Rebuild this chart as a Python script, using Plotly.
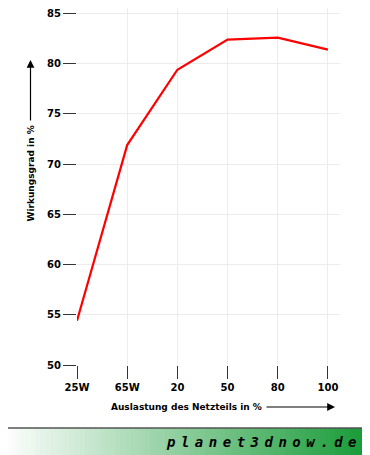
import plotly.graph_objects as go

categories = ["25W", "65W", "20", "50", "80", "100"]
efficiency = [54.4, 71.9, 79.4, 82.4, 82.6, 81.4]
y_ticks = [50, 55, 60, 65, 70, 75, 80, 85]

# page offset caused by default body margin of the html page
OFF = 8
W, H = 370 - OFF, 455 - OFF
L, R, T, B = 77 - OFF, 30, 0, 90
PW, PH = W - L - R, H - T - B


def px(x):
    return (x - OFF - L) / PW


def py(y):
    return (H - B - (y - OFF)) / PH


x_idx = list(range(len(categories)))

fig = go.Figure()
fig.add_trace(go.Scatter(
    x=x_idx, y=efficiency, mode="lines",
    line=dict(color="#ff0000", width=2.2),
    hoverinfo="skip", showlegend=False,
))

font_b = dict(family="DejaVu Sans", size=10, color="#000", weight="bold")

fig.update_layout(
    width=W, height=H, autosize=False,
    margin=dict(l=L, r=R, t=T, b=B, pad=0),
    paper_bgcolor="white", plot_bgcolor="white",
    showlegend=False,
    xaxis=dict(
        range=[0, 5.24], tickmode="array", tickvals=x_idx, ticktext=categories,
        showgrid=True, gridcolor="#ececec", gridwidth=1,
        zeroline=False, showline=False,
        ticks="outside", ticklen=13, tickwidth=1.3, tickcolor="#333",
        tickfont=font_b, fixedrange=True,
    ),
    yaxis=dict(
        range=[50, 85.55], tickmode="array", tickvals=y_ticks,
        showgrid=True, gridcolor="#ececec", gridwidth=1,
        zeroline=False, showline=False,
        ticks="outside", ticklen=13, tickwidth=1.3, tickcolor="#333",
        tickfont=font_b, fixedrange=True,
    ),
)

title_font = dict(family="DejaVu Sans", size=9, color="#000", weight="bold")

# x axis title + arrow
fig.add_annotation(
    x=px(186.5), y=py(407), xref="paper", yref="paper",
    text="Auslastung des Netzteils in %", showarrow=False,
    font=title_font, xanchor="center", yanchor="middle",
)
fig.add_annotation(
    x=px(335), y=py(407), xref="paper", yref="paper", text="",
    showarrow=True, ax=-70, ay=0, arrowhead=2, arrowsize=1.3,
    arrowwidth=1.2, arrowcolor="#000",
)

# y axis title + arrow
fig.add_annotation(
    x=px(30.5), y=py(174), xref="paper", yref="paper",
    text="Wirkungsgrad in %", showarrow=False, textangle=-90,
    font=title_font, xanchor="center", yanchor="middle",
)
fig.add_annotation(
    x=px(30.5), y=py(60), xref="paper", yref="paper", text="",
    showarrow=True, ax=0, ay=62, arrowhead=2, arrowsize=1.3,
    arrowwidth=1.2, arrowcolor="#000",
)

# footer gradient (white -> green)
shapes = []
n = 74
c0 = (255, 255, 255)
c1 = (22, 154, 54)
for i in range(n):
    x0 = i * 370 / n
    x1 = (i + 1) * 370 / n + 0.6
    t = i / (n - 1)
    col = tuple(round(c0[k] + (c1[k] - c0[k]) * t) for k in range(3))
    shapes.append(dict(
        type="rect", xref="paper", yref="paper",
        x0=px(x0), x1=px(x1), y0=py(456), y1=py(428.5),
        fillcolor="rgb(%d,%d,%d)" % col, line=dict(width=0), layer="below",
    ))
shapes.append(dict(
    type="line", xref="paper", yref="paper",
    x0=px(0), x1=px(371), y0=py(428), y1=py(428),
    line=dict(color="#000", width=1.2),
))
fig.update_layout(shapes=shapes)

fig.add_annotation(
    x=px(364), y=py(442), xref="paper", yref="paper",
    text='<span style="letter-spacing:5.5px">planet3dnow.de</span>',
    showarrow=False, xanchor="right", yanchor="middle",
    font=dict(family="DejaVu Sans Mono", size=14, color="#000",
              weight="bold", style="italic"),
)

fig.write_html("out.html", config={"displayModeBar": False})
